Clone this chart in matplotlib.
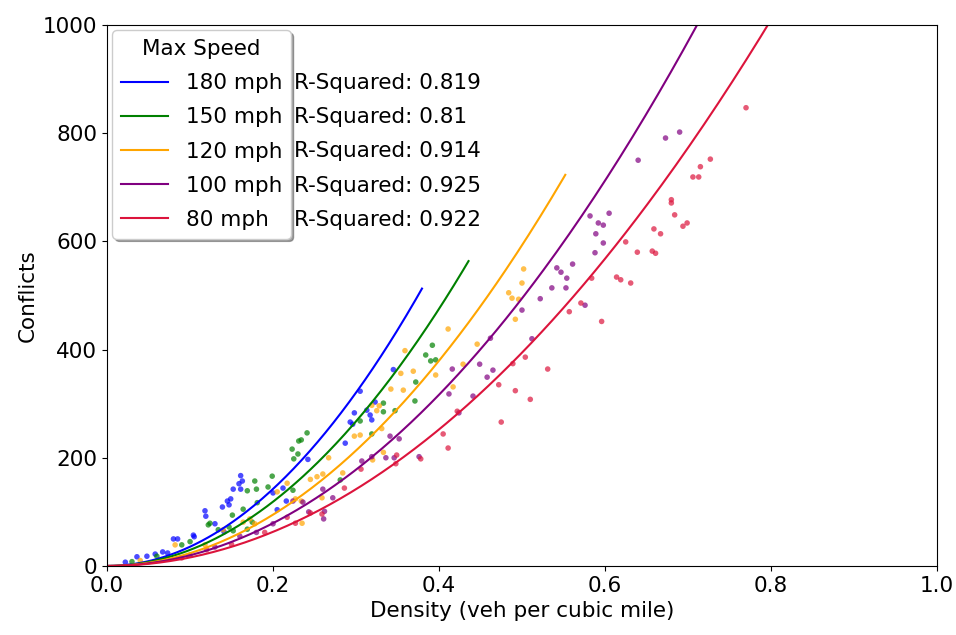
import numpy as np
import matplotlib
matplotlib.use("Agg")
import matplotlib.pyplot as plt

speeds = ["180 mph", "150 mph", "120 mph", "100 mph", "80 mph"]
colors = ["blue", "green", "orange", "purple", "crimson"]
r_squared = ["0.819", "0.81", "0.914", "0.925", "0.922"]

# quadratic fit coefficients: conflicts = coef * density**2
fit_coef = [3560, 2970, 2371, 1978, 1577]

x_180 = [0.022, 0.036, 0.048, 0.058, 0.067, 0.073, 0.080, 0.085, 0.104, 0.105,
         0.118, 0.119, 0.130, 0.139, 0.141, 0.145, 0.147, 0.149, 0.152, 0.159,
         0.161, 0.161, 0.163, 0.200, 0.205, 0.212, 0.216, 0.242, 0.287, 0.293,
         0.296, 0.298, 0.305, 0.313, 0.317, 0.319, 0.323, 0.345]
y_180 = [7, 17, 18, 22, 26, 24, 50, 50, 57, 54,
         102, 92, 78, 109, 63, 120, 113, 124, 142, 152,
         167, 142, 157, 135, 104, 144, 120, 197, 227, 266,
         262, 283, 323, 288, 279, 270, 303, 363]

x_150 = [0.030, 0.060, 0.090, 0.100, 0.122, 0.124, 0.134, 0.147, 0.151, 0.152,
         0.164, 0.169, 0.169, 0.175, 0.178, 0.180, 0.181, 0.194, 0.199, 0.223,
         0.224, 0.225, 0.230, 0.231, 0.234, 0.241, 0.281, 0.305, 0.319, 0.333,
         0.333, 0.347, 0.371, 0.372, 0.384, 0.390, 0.392, 0.396]
y_150 = [8, 18, 39, 45, 76, 79, 67, 72, 94, 65,
         105, 139, 68, 81, 157, 142, 117, 146, 166, 216,
         140, 198, 207, 231, 233, 246, 159, 268, 244, 301,
         285, 287, 305, 340, 390, 379, 408, 381]

x_120 = [0.040, 0.082, 0.118, 0.140, 0.164, 0.172, 0.178, 0.205, 0.217, 0.227,
         0.234, 0.235, 0.245, 0.253, 0.259, 0.260, 0.267, 0.284, 0.298, 0.305,
         0.319, 0.320, 0.325, 0.328, 0.331, 0.333, 0.342, 0.354, 0.357, 0.359,
         0.369, 0.396, 0.411, 0.417, 0.429, 0.446, 0.484, 0.488, 0.492, 0.496,
         0.500, 0.502]
y_120 = [10, 39, 39, 67, 81, 87, 78, 137, 153, 124,
         120, 79, 160, 165, 126, 170, 200, 172, 240, 242,
         297, 196, 287, 296, 254, 210, 327, 356, 325, 398,
         360, 353, 438, 331, 373, 410, 505, 495, 456, 493,
         523, 549]

x_100 = [0.100, 0.130, 0.160, 0.180, 0.200, 0.224, 0.236, 0.243, 0.260, 0.261,
         0.262, 0.272, 0.307, 0.319, 0.336, 0.341, 0.346, 0.352, 0.376, 0.412,
         0.416, 0.424, 0.441, 0.449, 0.458, 0.462, 0.465, 0.500, 0.512, 0.522,
         0.536, 0.542, 0.547, 0.553, 0.554, 0.561, 0.576, 0.582, 0.588, 0.589,
         0.592, 0.598, 0.598, 0.605, 0.640, 0.673, 0.690]
y_100 = [20, 35, 55, 62, 78, 120, 118, 100, 142, 87,
         101, 126, 194, 202, 200, 240, 200, 235, 202, 318,
         364, 283, 314, 373, 349, 421, 362, 473, 420, 494,
         514, 551, 543, 514, 532, 558, 482, 647, 579, 614,
         634, 630, 597, 652, 750, 791, 802]

x_80 = [0.090, 0.120, 0.150, 0.190, 0.217, 0.227, 0.245, 0.259, 0.286, 0.306,
        0.348, 0.349, 0.378, 0.405, 0.411, 0.422, 0.472, 0.475, 0.489, 0.492,
        0.504, 0.510, 0.531, 0.557, 0.571, 0.584, 0.596, 0.614, 0.619, 0.625,
        0.631, 0.639, 0.657, 0.659, 0.661, 0.667, 0.680, 0.680, 0.684, 0.694,
        0.699, 0.706, 0.713, 0.715, 0.727, 0.770]
y_80 = [15, 30, 40, 62, 90, 79, 98, 96, 144, 179,
        189, 205, 198, 244, 218, 286, 335, 266, 374, 324,
        386, 308, 364, 470, 486, 532, 452, 534, 529, 599,
        523, 580, 582, 623, 578, 614, 677, 671, 649, 628,
        634, 719, 719, 738, 752, 847]

xs = [x_180, x_150, x_120, x_100, x_80]
ys = [y_180, y_150, y_120, y_100, y_80]

plt.rcParams["font.family"] = ["DejaVu Sans"]
fig = plt.figure(figsize=(9.56, 6.35), dpi=100)
ax = fig.add_axes([0.112, 0.1087, 0.868, 0.852])

for label, color, coef, x, y in zip(speeds, colors, fit_coef, xs, ys):
    ax.scatter(x, y, s=16, color=color, alpha=0.7, edgecolors="none")
    xc = np.linspace(0, 1.1 * max(x), 200)
    ax.plot(xc, coef * xc ** 2, color=color, lw=1.5, label=label)

ax.set_xlim(0, 1.0)
ax.set_ylim(0, 1000)
ax.set_xlabel("Density (veh per cubic mile)", fontsize=15.5)
ax.set_ylabel("Conflicts", fontsize=15.5)
ax.tick_params(labelsize=15.5)

leg = ax.legend(title="Max Speed", loc="upper left", fontsize=15.5,
                title_fontsize=15.5, shadow=True, borderaxespad=0.25,
                handlelength=2.2, handletextpad=0.8, labelspacing=0.66,
                fancybox=True)

for i, r2 in enumerate(r_squared):
    ax.text(0.225, 0.893 - i * 0.0633, f"R-Squared: {r2}", transform=ax.transAxes,
            fontsize=15.5, va="center", ha="left")

fig.savefig("out.png", dpi=100)
